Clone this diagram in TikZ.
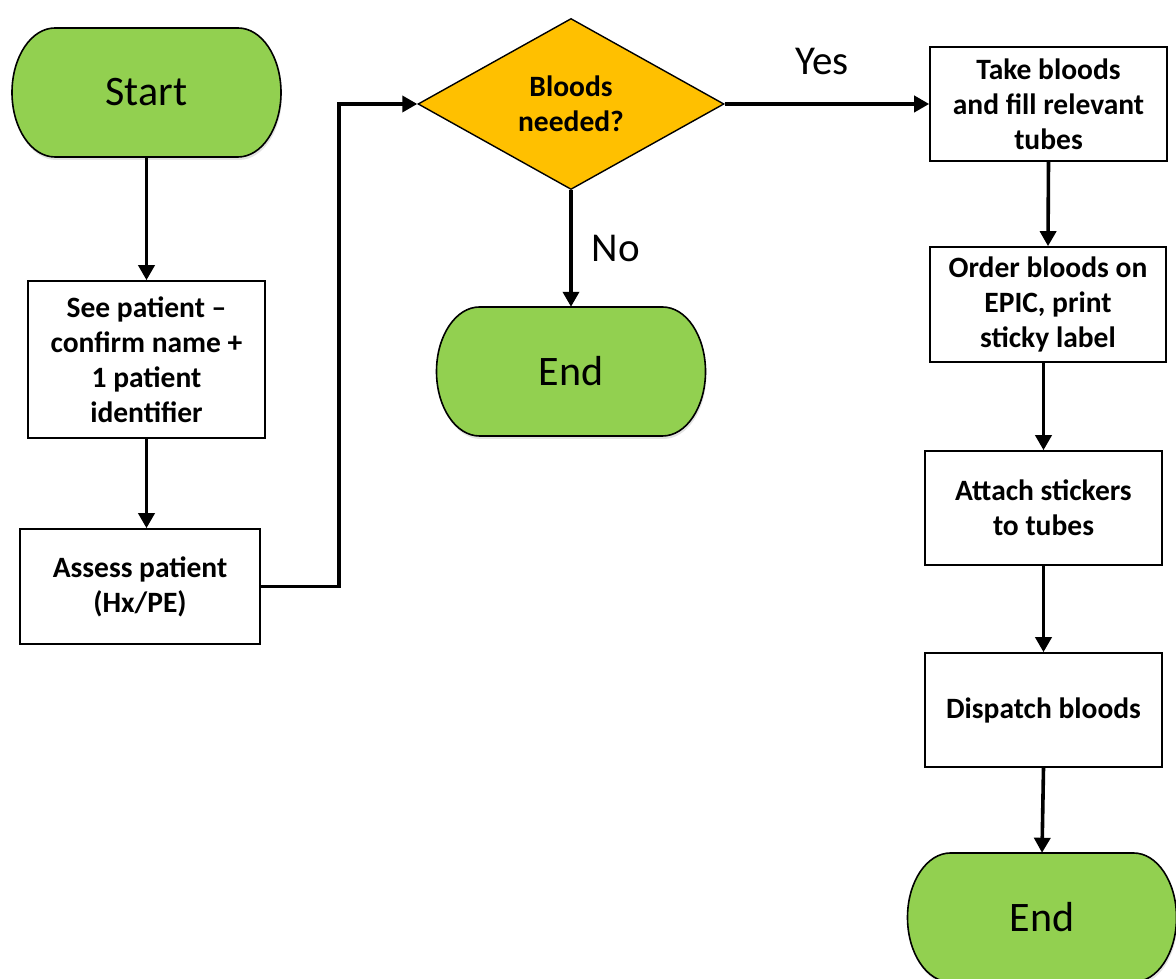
\documentclass[tikz,border=0pt]{standalone}
\usepackage{fontspec}
\setmainfont{Carlito}
\usetikzlibrary{arrows.meta,shapes.geometric,shadows}
\definecolor{termgreen}{HTML}{92D050}
\definecolor{decgold}{HTML}{FFC000}
\newcommand\termnode[4]{%
  \path[termfill] (#2,#3) ++(-91.5,64.5) -- ++(183,0)
    arc[start angle=90,end angle=-90,x radius=43,y radius=64.5] -- ++(-183,0)
    arc[start angle=270,end angle=90,x radius=43,y radius=64.5] -- cycle;
  \node[termtext] (#1) at (#2,#3) {#4};}
\begin{document}
\begin{tikzpicture}[x=1pt,y=1pt,
  termfill/.style={fill=termgreen,draw=black,line width=1.6pt,
    drop shadow={shadow xshift=1pt,shadow yshift=-3pt,opacity=0.22}},
  termtext/.style={inner sep=0pt,minimum width=269pt,minimum height=129pt,
    font=\fontsize{42}{48}\selectfont},
  procbox/.style={draw=black,line width=1.6pt,fill=white,inner sep=0pt,
    align=center,font=\fontsize{29.5}{35}\selectfont\bfseries},
  decision/.style={diamond,draw=black,line width=1.4pt,fill=decgold,inner sep=0pt,
    minimum width=306pt,minimum height=171pt,align=center,
    font=\fontsize{29.5}{35}\selectfont\bfseries},
  flow/.style={line width=3.6pt,-{Triangle[length=15pt,width=16pt]}},
  flowlab/.style={font=\fontsize{41}{48}\selectfont}]
\useasboundingbox (0,0) rectangle (1176,979);
\clip (0,0) rectangle (1176,979);
% terminators
\termnode{start}{146.5}{886.5}{Start}
\termnode{endA}{571}{607.5}{End}
\termnode{endB}{1042}{61.5}{End}
% process boxes
\node[procbox,minimum width=237pt,minimum height=157pt] (see) at (146.5,619.5)
  {See patient --\\confirm name +\\1 patient\\identifier};
\node[procbox,minimum width=240pt,minimum height=115pt] (assess) at (140,392.5)
  {Assess patient\\(Hx/PE)};
\node[decision] (dia) at (571,875) {Bloods\\needed?};
\node[procbox,minimum width=237pt,minimum height=114pt] (take) at (1048.5,875)
  {Take bloods\\and fill relevant\\tubes};
\node[procbox,minimum width=236pt,minimum height=115pt] (order) at (1048,674.5)
  {Order bloods on\\EPIC, print\\sticky label};
\node[procbox,minimum width=237pt,minimum height=114pt] (attach) at (1043.5,471)
  {Attach stickers\\to tubes};
\node[procbox,minimum width=237pt,minimum height=114pt] (dispatch) at (1043.5,269)
  {Dispatch bloods};
\coordinate (bend) at (339,875);
% labels
\node[flowlab] (yes) at (822,917) {Yes};
\node[flowlab] (no) at (616,731) {No};
% connectors
\draw[flow] (start.south) -- (start.south |- see.north);
\draw[flow] (see.south) -- (see.south |- assess.north);
\draw[flow] (assess.east) -| (bend) -- (dia.west);
\draw[flow] (dia.east) -- (take.west);
\draw[flow] (dia.south) -- (endA.north);
\draw[flow] (take.south) -- (order.north);
\draw[flow] (attach.north |- order.south) -- (attach.north);
\draw[flow] (attach.south) -- (dispatch.north);
\draw[flow] (dispatch.south) -- (endB.north);
\end{tikzpicture}
\end{document}
